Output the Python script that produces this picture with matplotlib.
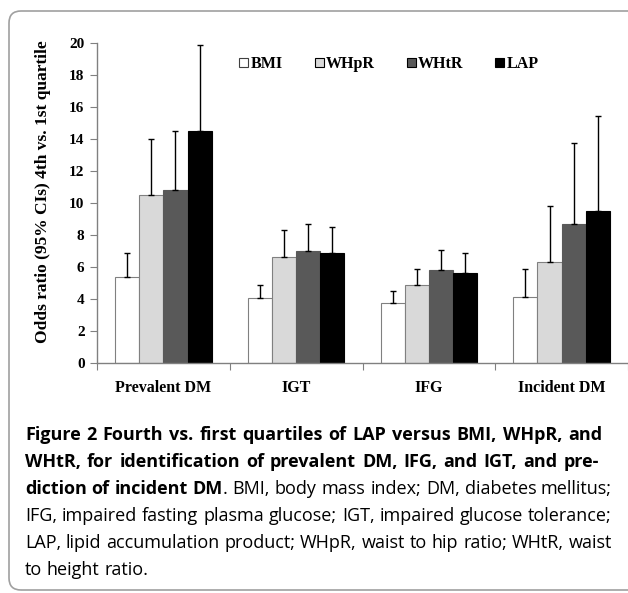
import matplotlib
matplotlib.use('Agg')
import matplotlib.pyplot as plt
import numpy as np
from matplotlib.patches import FancyBboxPatch, Patch
from matplotlib.transforms import IdentityTransform

# data
categories = ['Prevalent DM', 'IGT', 'IFG', 'Incident DM']
series = ['BMI', 'WHpR', 'WHtR', 'LAP']
bmi = [5.35, 4.05, 3.75, 4.1]
bmi_hi = [6.85, 4.85, 4.5, 5.9]
whpr = [10.5, 6.65, 4.9, 6.3]
whpr_hi = [14.0, 8.3, 5.9, 9.8]
whtr = [10.8, 7.0, 5.8, 8.7]
whtr_hi = [14.5, 8.7, 7.05, 13.75]
lap = [14.5, 6.85, 5.65, 9.5]
lap_hi = [19.85, 8.5, 6.9, 15.45]
yticks = [0, 2, 4, 6, 8, 10, 12, 14, 16, 18, 20]

values = [bmi, whpr, whtr, lap]
uppers = [bmi_hi, whpr_hi, whtr_hi, lap_hi]
colors = ['white', '#d9d9d9', '#595959', 'black']
edges = ['#808080', '#808080', '#595959', 'black']

W, H = 628, 593
fig = plt.figure(figsize=(W / 100, H / 100), dpi=100)

serif = 'Liberation Serif'
ax = fig.add_axes([97 / W, 1 - 363 / H, 531 / W, 320 / H])

bw = 1 / 5.5
xc = np.arange(len(categories)) + 0.5
for j in range(4):
    x = xc + (j - 1.5) * bw
    v = np.array(values[j])
    hi = np.array(uppers[j])
    ax.bar(x, v, bw, color=colors[j], edgecolor=edges[j], linewidth=0.8, zorder=2)
    ax.errorbar(x, v, yerr=[np.zeros_like(v), hi - v], fmt='none', ecolor='black',
                elinewidth=1.0, capsize=2.5, capthick=1.0, zorder=3)

ax.set_xlim(0, 4)
ax.set_ylim(0, 20)
ax.set_yticks(yticks)
ax.set_yticklabels([str(t) for t in yticks], fontsize=11, fontweight='bold', family=serif)
ax.set_xticks([0, 1, 2, 3, 4])
ax.set_xticklabels([])
ax.set_xticks(xc, minor=True)
ax.set_xticklabels(categories, minor=True, fontsize=11.5, fontweight='bold', family=serif)
ax.tick_params(axis='x', which='minor', length=0, pad=12)
ax.tick_params(axis='x', which='major', length=5, color='#808080', direction='out')
ax.tick_params(axis='y', length=5, color='#808080', direction='out', pad=4)
for s in ['top', 'right']:
    ax.spines[s].set_visible(False)
for s in ['left', 'bottom']:
    ax.spines[s].set_color('#808080')
    ax.spines[s].set_linewidth(1.0)

ax.set_ylabel('Odds ratio (95% CIs) 4th vs. 1st quartile', fontsize=12.5,
              fontweight='bold', family=serif)
ax.yaxis.label.set_verticalalignment('center')
ax.yaxis.set_label_coords((43 - 97) / 531, (363 - 192) / 320)

handles = [Patch(facecolor=colors[j], edgecolor='black' if j else '#404040', linewidth=0.8)
           for j in range(4)]
fig.legend(handles, series, loc='center', bbox_to_anchor=(389 / W, 1 - 64 / H),
           ncol=4, frameon=False, handlelength=0.55, handleheight=0.55,
           handletextpad=0.15, columnspacing=2.0,
           prop={'family': serif, 'weight': 'bold', 'size': 11.5})

# rounded frame around the figure panel
frame = FancyBboxPatch((9, 3), 700, 579, boxstyle='round,pad=0,rounding_size=12',
                       transform=IdentityTransform(), fill=False,
                       edgecolor='#a0a0a0', linewidth=1.2)
fig.add_artist(frame)

# caption, justified word by word
caption = [
    ([('Figure 2 Fourth vs. first quartiles of LAP versus BMI, WHpR, and', 'bold')], 602),
    ([('WHtR, for identification of prevalent DM, IFG, and IGT, and pre-', 'bold')], 599),
    ([('diction of incident DM', 'bold'), ('. BMI, body mass index; DM, diabetes mellitus;', 'normal')], 612),
    ([('IFG, impaired fasting plasma glucose; IGT, impaired glucose tolerance;', 'normal')], 612),
    ([('LAP, lipid accumulation product; WHpR, waist to hip ratio; WHtR, waist', 'normal')], 612),
    ([('to height ratio.', 'normal')], None),
]
cap_font = 'Open Sans'
left = 25
base_y = [440, 467, 494, 521, 548, 575]

r = fig.canvas.get_renderer()


def width(s, wt, fs):
    t = fig.text(0, 0, s, fontsize=fs, fontweight=wt, family=cap_font)
    w = t.get_window_extent(r).width
    t.remove()
    return w


def split_words(segs):
    words = []
    new_word = True
    for s, wt in segs:
        parts = s.split(' ')
        for k, p in enumerate(parts):
            if k > 0:
                new_word = True
            if p == '':
                continue
            if new_word or not words:
                words.append([])
            words[-1].append((p, wt))
            new_word = False
    return words


fs = 11.5
# scale the font so the widest justified line fits with plain spaces
ratio = 0.0
for segs, right in caption:
    if right is None:
        continue
    words = split_words(segs)
    sp = width('a a', 'normal', fs) - width('aa', 'normal', fs)
    nat = sum(width(p, wt, fs) for wd in words for p, wt in wd) + sp * (len(words) - 1)
    ratio = max(ratio, nat / (right - left))
fs = fs / ratio

sp = width('a a', 'normal', fs) - width('aa', 'normal', fs)
for (segs, right), y in zip(caption, base_y):
    words = split_words(segs)
    ww = [[width(p, wt, fs) for p, wt in wd] for wd in words]
    tot = sum(sum(w) for w in ww)
    gap = sp if right is None else (right - left - tot) / (len(words) - 1)
    x = left
    for wd, w in zip(words, ww):
        for (p, wt), pw in zip(wd, w):
            fig.text(x / W, 1 - y / H, p, fontsize=fs, fontweight=wt, family=cap_font,
                     ha='left', va='baseline', color='black')
            x += pw
        x += gap

fig.savefig('out.png', dpi=100)
